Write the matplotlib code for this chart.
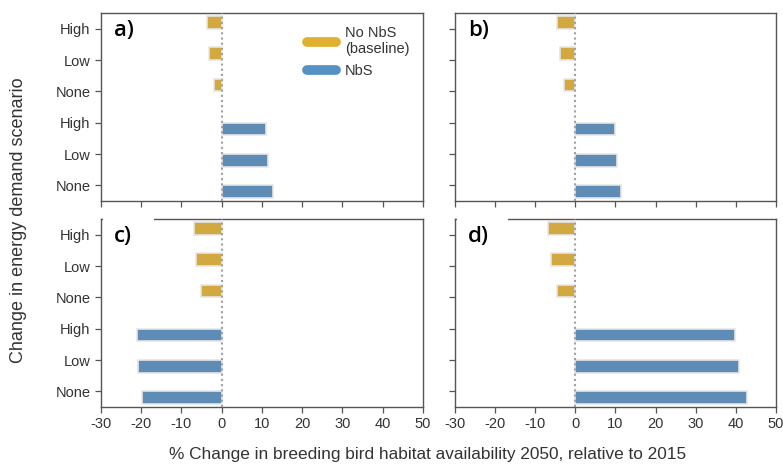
import numpy as np
import matplotlib.pyplot as plt
from matplotlib.lines import Line2D
from matplotlib.patches import Rectangle

plt.rcParams['font.family'] = ['Liberation Sans', 'DejaVu Sans']
plt.rcParams['axes.unicode_minus'] = False

scenarios = ['High', 'Low', 'None', 'High', 'Low', 'None']
panels = ['a)', 'b)', 'c)', 'd)']

# No NbS (baseline) values for High, Low, None
baseline = {
    'a)': [-3.7, -3.1, -2.0],
    'b)': [-4.5, -3.9, -2.9],
    'c)': [-7.0, -6.3, -5.1],
    'd)': [-6.7, -6.0, -4.6],
}
# NbS values for High, Low, None
nbs = {
    'a)': [11.0, 11.6, 12.8],
    'b)': [10.0, 10.5, 11.5],
    'c)': [-21.1, -20.7, -19.8],
    'd)': [39.8, 40.7, 42.9],
}

yellow = '#D1A940'
blue = '#5F8CB4'
edge = '#E6E6E6'

fig = plt.figure(figsize=(7.83, 4.68), dpi=100)
pos = {
    'a)': [0.129, 0.5705, 0.411, 0.4017],
    'b)': [0.581, 0.5705, 0.410, 0.4017],
    'c)': [0.129, 0.1303, 0.411, 0.4017],
    'd)': [0.581, 0.1303, 0.410, 0.4017],
}

y = np.arange(len(scenarios))
for i, p in enumerate(panels):
    ax = fig.add_axes(pos[p])
    ax.barh(y[:3] - 0.2, baseline[p], height=0.4, color=yellow,
            edgecolor=edge, linewidth=1.2, zorder=2)
    ax.barh(y[3:] + 0.2, nbs[p], height=0.4, color=blue,
            edgecolor=edge, linewidth=1.2, zorder=2)
    ax.axvline(0, color='#A0A0A0', linestyle=(0, (1, 1.5)), linewidth=1.5, zorder=3)
    ax.set_xlim(-30, 50)
    ax.set_ylim(5.5, -0.5)
    ax.set_xticks(np.arange(-30, 51, 10))
    ax.set_yticks(y)
    for s in ax.spines.values():
        s.set_color('#555555')
        s.set_linewidth(1.0)
    ax.tick_params(colors='#555555', labelcolor='#333333', labelsize=10.5,
                   length=4, width=0.9)
    if i % 2 == 0:
        ax.set_yticklabels(scenarios)
    else:
        ax.set_yticklabels([])
    if i < 2:
        ax.set_xticklabels([])
    ax.text(0.04, 0.905, p, transform=ax.transAxes, fontsize=16,
            family=['Open Sans', 'DejaVu Sans'], fontweight='semibold',
            va='center', ha='left', zorder=5)
    if i >= 2:
        ax.add_patch(Rectangle((0.005, 0.985), 0.16, 0.03, transform=ax.transAxes,
                               facecolor='white', edgecolor='none',
                               clip_on=False, zorder=6))
    if i == 0:
        handles = [Line2D([], [], color='#E0B030', lw=7, solid_capstyle='round'),
                   Line2D([], [], color='#5592C4', lw=7, solid_capstyle='round')]
        ax.legend(handles, ['No NbS\n(baseline)', 'NbS'], loc='upper right',
                  bbox_to_anchor=(1.0, 1.0), frameon=False, fontsize=10.5,
                  handlelength=2.0, handletextpad=0.6, labelspacing=0.5,
                  labelcolor='#333333')

fig.text(0.023, 0.53, 'Change in energy demand scenario', rotation=90,
         ha='center', va='center', fontsize=13, color='#333333')
fig.text(0.546, 0.028, '% Change in breeding bird habitat availability 2050, relative to 2015',
         ha='center', va='center', fontsize=12.4, color='#333333')

fig.savefig('out.png', dpi=100)
